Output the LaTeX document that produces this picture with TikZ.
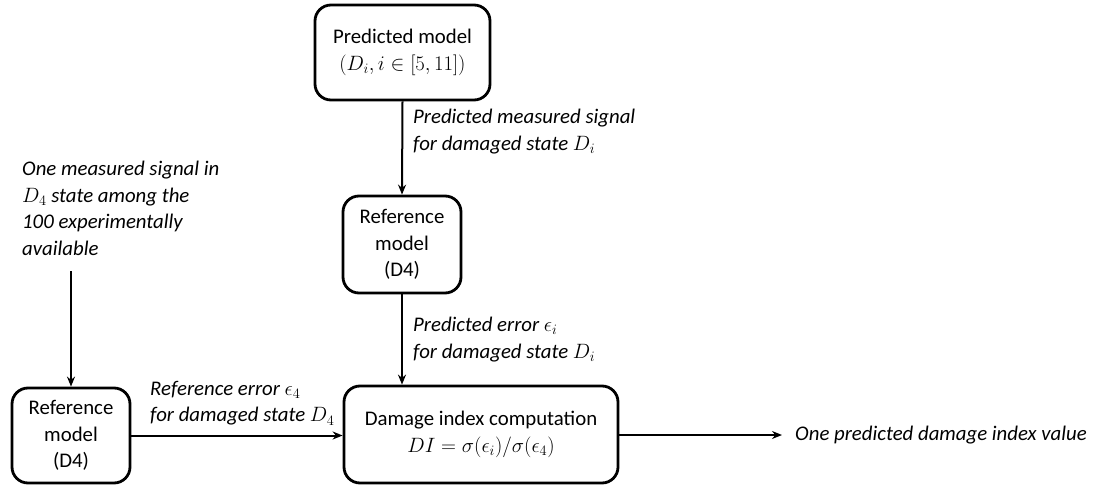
\documentclass[tikz,border=0pt]{standalone}
\usepackage{fontspec}
\setmainfont{Carlito}
\usetikzlibrary{arrows.meta}
\begin{document}
\begin{tikzpicture}[x=1pt,y=-1pt,
  box/.style={draw,line width=2.8pt,rounded corners=16pt,align=center,inner sep=0pt},
  lbl/.style={align=left,anchor=north west,inner sep=0pt,font=\itshape},
  conn/.style={line width=2pt,-{Stealth[length=10pt,width=8pt]}}]
\fontsize{20.8}{26.5}\selectfont
\useasboundingbox (0,0) rectangle (1095,487);
\node[box,minimum width=175pt,minimum height=95pt] (pm) at (402.5,52.5) {Predicted model\\$(D_i, i\in[5,11])$};
\node[box,minimum width=118pt,minimum height=97pt] (rm) at (402,244.5) {Reference\\model\\(D4)};
\node[box,minimum width=118pt,minimum height=95pt] (rl) at (71,435.5) {Reference\\model\\(D4)};
\node[box,minimum width=274pt,minimum height=97pt] (di) at (481,434.5) {Damage index computation\\$DI=\sigma(\epsilon_i)/\sigma(\epsilon_4)$};
\node[lbl] (l1) at (413,109) {Predicted measured signal\\for damaged state $D_i$};
\node[lbl] (l2) at (22,161) {One measured signal in\\$D_4$ state among the\\100 experimentally\\available};
\node[lbl] (l3) at (413,317) {Predicted error $\epsilon_i$\\for damaged state $D_i$};
\node[lbl] (l4) at (150,381) {Reference error $\epsilon_4$\\for damaged state $D_4$};
\node[lbl,anchor=west] (l5) at (795,435) {One predicted damage index value};
\coordinate (s2) at (71,271);
\coordinate (out) at (782,435);
\draw[conn] (pm.south) -- (rm.north);
\draw[conn] (rm.south) -- (rm.south |- di.north);
\draw[conn] (s2) -- (rl.north);
\draw[conn] (rl.east) -- (rl.east -| di.west);
\draw[conn] (di.east |- out) -- (out);
\end{tikzpicture}
\end{document}
